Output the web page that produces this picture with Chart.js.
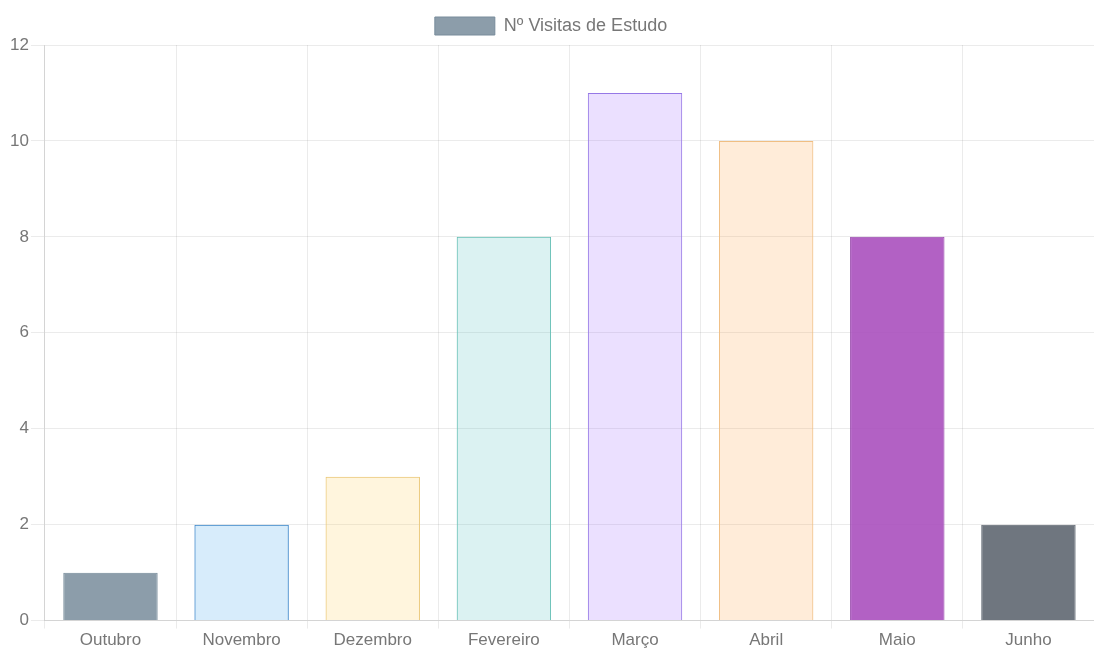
<!doctype html>
<html>
<head>
	<meta charset="utf-8">
	<title>Visitas de Estudo</title>
	<style>
		html, body { margin: 0; padding: 0; background: #fff; }
		#canvas-holder { width: 1094px; height: 653px; }
	</style>
</head>
<body>
	<div id="canvas-holder">
		<canvas id="chart-area"></canvas>
	</div>
	<script src="https://cdn.jsdelivr.net/npm/chart.js@4/dist/chart.umd.min.js"></script>
	<script>
	var meses = ['Outubro', 'Novembro', 'Dezembro', 'Fevereiro', 'Março', 'Abril', 'Maio', 'Junho'];
	var visitas = [1, 2, 3, 8, 11, 10, 8, 2];
	var corFundo = [
		'rgba(120,140,155,0.85)',
		'rgba(54,162,235,0.2)',
		'rgba(255,206,86,0.2)',
		'rgba(75,192,192,0.2)',
		'rgba(153,102,255,0.2)',
		'rgba(255,159,64,0.2)',
		'rgba(170,80,190,0.9)',
		'rgba(95,103,113,0.9)'
	];
	var corBorda = [
		'rgba(120,140,155,1)',
		'rgba(54,130,200,1)',
		'rgba(235,200,120,1)',
		'rgba(100,190,180,1)',
		'rgba(150,120,230,1)',
		'rgba(240,190,130,1)',
		'rgba(150,70,170,1)',
		'rgba(95,103,113,1)'
	];
	var eixoY = { min: 0, max: 12, passo: 2 };

	Chart.defaults.font.family = '"Liberation Sans", Arial, sans-serif';
	Chart.defaults.color = '#777';

	var config = {
		type: 'bar',
		data: {
			labels: meses,
			datasets: [{
				label: 'Nº Visitas de Estudo',
				data: visitas,
				backgroundColor: corFundo,
				borderColor: corBorda,
				borderWidth: 1
			}]
		},
		options: {
			responsive: true,
			maintainAspectRatio: false,
			animation: false,
			layout: { padding: { left: 8, right: 0, top: 3, bottom: 0 } },
			plugins: {
				legend: {
					labels: {
						boxWidth: 60,
						boxHeight: 18,
						font: { size: 18 },
						padding: 14
					}
				},
				tooltip: { enabled: false }
			},
			scales: {
				x: {
					grid: { color: 'rgba(0,0,0,0.08)', tickLength: 8 },
					ticks: { font: { size: 17 }, padding: 2 }
				},
				y: {
					min: eixoY.min,
					max: eixoY.max,
					grid: { color: 'rgba(0,0,0,0.08)', tickLength: 14 },
					ticks: { stepSize: eixoY.passo, font: { size: 17 }, padding: 2 }
				}
			}
		}
	};
	window.onload = function() {
		var ctx = document.getElementById('chart-area').getContext('2d');
		window.myBar = new Chart(ctx, config);
	};
	</script>
</body>
</html>
